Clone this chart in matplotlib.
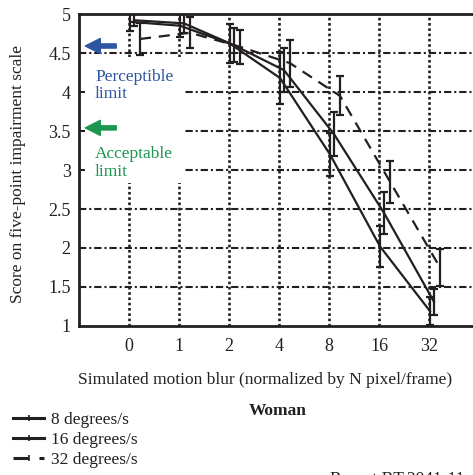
import matplotlib
matplotlib.use("Agg")
import matplotlib.pyplot as plt
from matplotlib.patches import Rectangle

plt.rcParams['font.family'] = ['Liberation Serif', 'DejaVu Serif']

categories = ['0', '1', '2', '4', '8', '16', '32']
s8 = [4.90, 4.85, 4.62, 4.18, 3.20, 2.02, 1.19]
e8 = [0.12, 0.15, 0.25, 0.33, 0.28, 0.26, 0.18]
s16 = [4.92, 4.88, 4.60, 4.28, 3.46, 2.45, 1.31]
e16 = [0.08, 0.12, 0.22, 0.28, 0.28, 0.27, 0.17]
s32 = [4.68, 4.76, 4.58, 4.37, 3.95, 2.85, 1.75]
e32 = [0.20, 0.20, 0.22, 0.30, 0.25, 0.27, 0.24]
labels = ['8 degrees/s', '16 degrees/s', '32 degrees/s']
yticks = [1, 1.5, 2, 2.5, 3, 3.5, 4, 4.5, 5]

INK = '#231f20'
BLUE = '#2e56a0'
GREEN = '#1c9650'
FS = 12.5

fig = plt.figure(figsize=(4.73, 4.75), dpi=100)
ax = fig.add_axes([79/473, 0.3137, 1 - 79/473, 0.6568])
ax.set_xlim(-1, 6.88)
ax.set_ylim(1, 5)

xs = list(range(len(categories)))
# grid
for y in yticks[1:-1]:
    ax.axhline(y, color=INK, lw=1.5, ls=(0, (3.5, 1.4, 1, 1.4)), zorder=1)
for x in xs:
    ax.axvline(x, color=INK, lw=1.9, ls=(0, (1.0, 1.0)), zorder=1)

# white box behind annotations
ax.add_patch(Rectangle((-0.88, 2.83), 2.0, 1.62, facecolor='white',
                       edgecolor='none', zorder=2))

offsets = [0.02, 0.10, 0.22]
styles = ['-', '-', (0, (5, 3.5))]
handles = []
for vals, errs, off, ls, lab in zip([s8, s16, s32], [e8, e16, e32], offsets, styles, labels):
    xo = [x + off for x in xs]
    ax.errorbar(xo, vals, yerr=errs, fmt='none', ecolor=INK, elinewidth=1.6,
                capsize=3, capthick=1.6, zorder=4)
    ln, = ax.plot(xo, vals, color=INK, lw=1.6, ls=ls, marker='|', ms=4,
                  mew=1.2, zorder=5, label=lab)
    handles.append(ln)

for s in ['left', 'top', 'bottom']:
    ax.spines[s].set_linewidth(2)
    ax.spines[s].set_color(INK)
ax.spines['right'].set_visible(False)

ax.set_xticks(xs)
ax.set_xticklabels(categories)
ax.set_yticks(yticks)
ax.set_yticklabels(['1', '1.5', '2', '2.5', '3', '3.5', '4', '4.5', '5'])
ax.tick_params(axis='both', length=0, labelsize=13, colors=INK)
ax.tick_params(axis='y', pad=6)
ax.tick_params(axis='x', pad=9)

# annotations
ax.annotate('', xy=(-0.93, 4.59), xytext=(-0.2, 4.59),
            arrowprops=dict(arrowstyle='simple,head_length=0.9,head_width=0.9,tail_width=0.25',
                            color=BLUE, mutation_scale=12), zorder=6)
ax.annotate('', xy=(-0.93, 3.54), xytext=(-0.2, 3.54),
            arrowprops=dict(arrowstyle='simple,head_length=0.9,head_width=0.9,tail_width=0.25',
                            color=GREEN, mutation_scale=12), zorder=6)
ax.text(-0.68, 4.08, 'Perceptible\nlimit', color=BLUE, fontsize=FS,
        va='center', ha='left', linespacing=1.1, zorder=6)
ax.text(-0.68, 3.09, 'Acceptable\nlimit', color=GREEN, fontsize=FS,
        va='center', ha='left', linespacing=1.1, zorder=6)

fig.text(18/473, 0.634, 'Score on five-point impairment scale', rotation=90,
         ha='center', va='center', fontsize=FS, color=INK)
fig.text(265/473, 1 - 380/475, 'Simulated motion blur (normalized by N pixel/frame)',
         ha='center', va='center', fontsize=FS, color=INK)
fig.text(278/473, 1 - 411/475, 'Woman', ha='center', va='center', fontsize=FS,
         fontweight='bold', color=INK)
fig.text(330/473, 1 - 471/475, 'Report BT.2041-11', ha='left', va='top',
         fontsize=FS, color=INK)

leg = fig.legend(handles=handles, labels=labels, loc='upper left',
                 bbox_to_anchor=(13/473, 1 - 412/475), frameon=False, fontsize=FS,
                 handlelength=1.8, handletextpad=0.4, labelspacing=0.22,
                 borderaxespad=0, borderpad=0, labelcolor=INK)
for h in leg.legend_handles:
    h.set_linewidth(2.2)

fig.savefig('out.png', dpi=100)
